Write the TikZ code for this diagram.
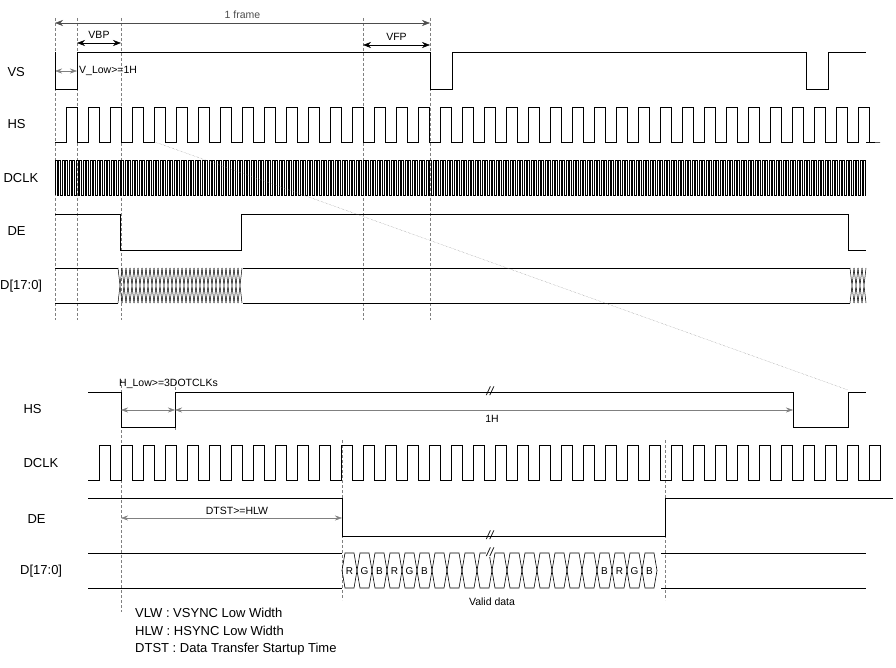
\documentclass[tikz,border=0pt]{standalone}
\usepackage{fontspec}
\setmainfont{Liberation Sans}
\usetikzlibrary{arrows.meta}
\begin{document}
\begin{tikzpicture}[x=1pt,y=-1pt,
  sig/.style={line width=0.8pt,black},
  guide/.style={densely dashed,gray,line width=0.4pt},
  dim/.style={{Stealth[length=8pt,width=6pt]}-{Stealth[length=8pt,width=6pt]},line width=0.5pt,black},
  gdim/.style={{Stealth[length=7pt,width=5pt]}-{Stealth[length=7pt,width=5pt]},line width=0.4pt,gray},
  lab/.style={anchor=west,font=\fontsize{13}{14}\selectfont},
  small/.style={font=\fontsize{10.5}{11}\selectfont},
  brk/.style={font=\fontsize{12}{12}\selectfont\itshape,inner sep=0pt},
  cell/.style={font=\fontsize{10}{10}\selectfont,inner sep=0pt}]
\useasboundingbox (0,0) rectangle (896,668);
% guides top
\foreach \x in {55,77,121,363,430} \draw[guide] (\x,18) -- (\x,320);
% guides bottom
\draw[guide] (121,380) -- (121,612);
\draw[guide] (175,382) -- (175,430);
\draw[guide] (342,440) -- (342,600);
\draw[guide] (665,440) -- (665,600);
% dimensions top
\coordinate (f1) at (55,23); \coordinate (f2) at (430,23);
\draw[dim,black!70] (f1) -- (f2) node[midway,above=1pt,small] (frame) {1 frame};
\coordinate (b1) at (77,43); \coordinate (b2) at (121,43);
\draw[dim] (b1) -- (b2) node[midway,above=1pt,small] (vbp) {VBP};
\coordinate (p1) at (363,45); \coordinate (p2) at (430,45);
\draw[dim] (p1) -- (p2) node[midway,above=1pt,small] (vfp) {VFP};
\coordinate (l1) at (55,71); \coordinate (l2) at (77,71);
\draw[gdim] (l1) -- (l2);
\node[small,anchor=west,inner sep=1pt] (vlow) at (78,71) {V\_Low>=1H};
% labels
\node[lab] (tVS) at (4,72) {VS};
\node[lab] (tHS) at (4,124) {HS};
\node[lab] (tDCLK) at (0,178) {DCLK};
\node[lab] (tDE) at (4,231) {DE};
\node[lab,inner sep=0pt] (tD) at (0,286) {D[17:0]};
% VS
\draw[sig] (55,52) -- (55,89) -- (77,89) -- (77,52) -- (430,52) -- (430,89) -- (452,89) -- (452,52) -- (806,52) -- (806,89) -- (828,89) -- (828,52) -- (866,52);
% HS top
\draw[sig] (55,142) -- (66,142)
  \foreach \k in {0,...,36} { -- ({66+22*\k},142) -- ({66+22*\k},107) -- ({77+22*\k},107) -- ({77+22*\k},142) -- ({88+22*\k},142)} -- (866,142);
% DCLK top
\draw[line width=0.5pt] (55,195)
  \foreach \k in {0,...,231} { -- ({55+3.5*\k},195) -- ({55+3.5*\k},160) -- ({56.75+3.5*\k},160) -- ({56.75+3.5*\k},195)} -- (866,195);
% DE top
\draw[sig] (55,214) -- (120,214) -- (120,250) -- (241,250) -- (241,214) -- (848,214) -- (848,250) -- (866,250);
% D top
\draw[sig] (55,268) -- (118,268); \draw[sig] (55,303) -- (118,303);
\draw[sig] (243,268) -- (850,268); \draw[sig] (243,303) -- (850,303);
\foreach \k in {0,...,30} \draw[line width=0.5pt] ({118+4*\k},268) -- ({122+4*\k},303) ({118+4*\k},303) -- ({122+4*\k},268);
\foreach \k in {0,...,3} \draw[line width=0.5pt] ({850+4*\k},268) -- ({854+4*\k},303) ({850+4*\k},303) -- ({854+4*\k},268);
% diagonal
\coordinate (dg1) at (155,142); \coordinate (dg2) at (848,390);
\draw[densely dotted,gray,line width=0.4pt] (dg1) -- (dg2);
% bottom labels
\node[lab] (bHS) at (20,409) {HS};
\node[lab] (bDCLK) at (20,463) {DCLK};
\node[lab] (bDE) at (24,519) {DE};
\node[lab,inner sep=0pt] (bD) at (20,571) {D[17:0]};
% HS bottom
\draw[sig] (88,392) -- (121,392) -- (121,427) -- (175,427) -- (175,392) -- (793,392) -- (793,427) -- (848,427) -- (848,392) -- (866,392);
\node[brk] (brk1) at (490,391) {//};
\node[small,anchor=south west,inner sep=1pt] (hlow) at (118,390) {H\_Low>=3DOTCLKs};
\coordinate (h1) at (121,410); \coordinate (h2) at (175,410);
\draw[gdim] (h1) -- (h2);
\coordinate (o1) at (175,410); \coordinate (o2) at (793,410);
\draw[gdim] (o1) -- (o2);
\node[small] (oneH) at (492,419) {1H};
% DCLK bottom
\draw[sig] (88,480)
  \foreach \k in {0,...,35} { -- ({99+22*\k},480) -- ({99+22*\k},445) -- ({110+22*\k},445) -- ({110+22*\k},480)} -- (866,480);
% DE bottom
\draw[sig] (88,498) -- (342,498) -- (342,536) -- (665,536) -- (665,498) -- (893,498);
\node[brk] (brk2) at (490,535) {//};
\coordinate (t1) at (121,518); \coordinate (t2) at (342,518);
\draw[gdim] (t1) -- (t2);
\node[small] (dtst) at (237,511) {DTST>=HLW};
% D bottom
\draw[sig] (88,553) -- (342,553); \draw[sig] (88,588) -- (342,588);
\draw[sig] (661,553) -- (866,553); \draw[sig] (661,588) -- (866,588);
\foreach \k/\t in {0/R,1/G,2/B,3/R,4/G,5/B,6/,7/,8/,9/,10/,11/,12/,13/,14/,15/,16/,17/B,18/R,19/G,20/B} {
  \pgfmathsetmacro{\a}{342+15*\k}
  \pgfmathsetmacro{\b}{\a+15}
  \draw[line width=0.6pt] (\a,570.5) -- (\a+3,553) -- (\b-3,553) -- (\b,570.5) -- (\b-3,588) -- (\a+3,588) -- cycle;
  \node[cell] at ({\a+7.5},571) {\t};
}
\node[brk,fill=white,inner sep=0.5pt] (brk3) at (490,552) {//};
\node[small] (valid) at (492,602) {Valid data};
% legend
\node[lab,anchor=west,inner sep=0pt] (lg1) at (135,613) {VLW : VSYNC Low Width};
\node[lab,anchor=west,inner sep=0pt] (lg2) at (135,631) {HLW : HSYNC Low Width};
\node[lab,anchor=west,inner sep=0pt] (lg3) at (135,649) {DTST : Data Transfer Startup Time};
\end{tikzpicture}
\end{document}
